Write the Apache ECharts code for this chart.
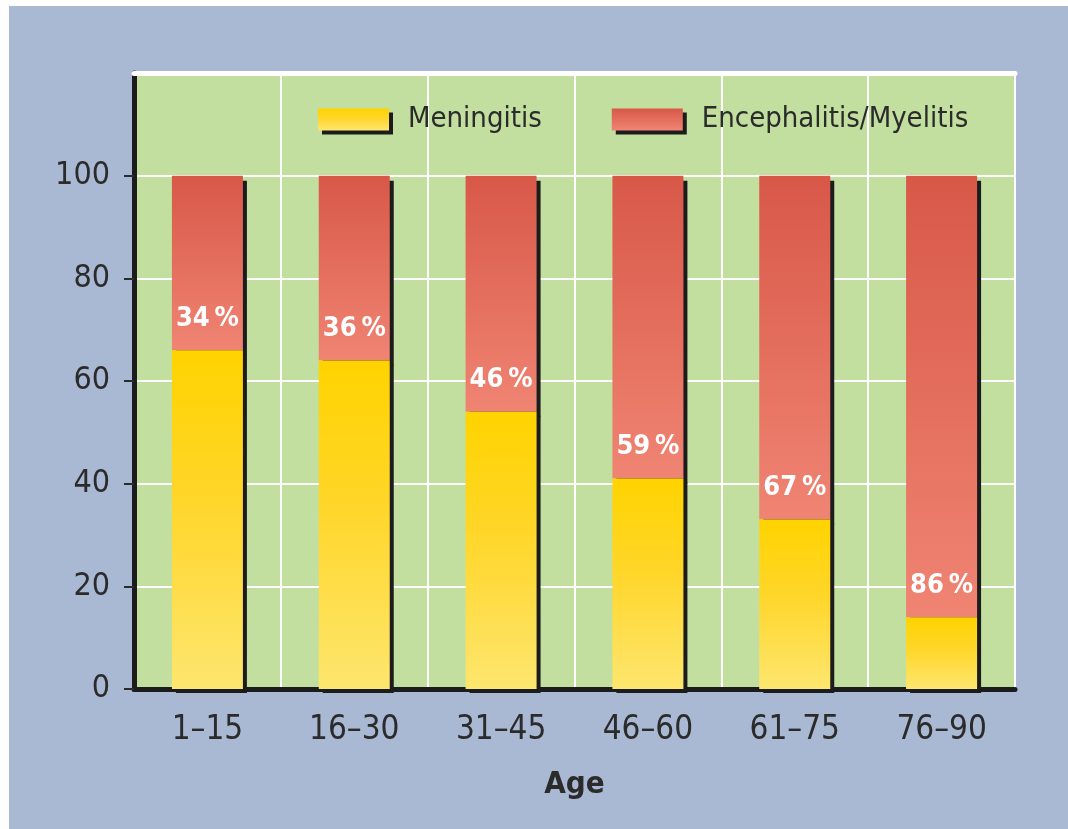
<!DOCTYPE html>
<html>
<head>
<meta charset="utf-8">
<script src="https://cdn.jsdelivr.net/npm/echarts@6/dist/echarts.min.js"></script>
<style>
  html, body { margin: 0; padding: 0; background: #ffffff; }
  #panel { position: absolute; left: 9px; top: 6px; width: 1059px; height: 823px; background: #a9b8d3; }
  #chart { position: absolute; left: 0; top: 0; width: 1068px; height: 829px; }
</style>
</head>
<body>
<div id="panel"></div>
<div id="chart"></div>
<script>
// Share of meningitis vs. encephalitis/myelitis by age group (percent)
const ageGroups = ['1–15', '16–30', '31–45', '46–60', '61–75', '76–90'];
const meningitis = [66, 64, 54, 41, 33, 14];
const encephalitis = [34, 36, 46, 59, 67, 86];
const yTicks = [0, 20, 40, 60, 80, 100];

const narrow = "'Liberation Sans Narrow', 'DejaVu Sans Condensed', 'Arial Narrow', sans-serif";
const textDark = '#2b2b2b';
const shadow = { shadowColor: '#1c1c1c', shadowBlur: 0, shadowOffsetX: 4 };

const chart = echarts.init(document.getElementById('chart'), null, { renderer: 'canvas' });

chart.setOption({
  backgroundColor: 'transparent',
  animation: false,
  grid: {
    left: 134, right: 53, top: 73, bottom: 140,
    show: true, backgroundColor: '#c2df9f', borderWidth: 0
  },
  legend: {
    left: 318, top: 105, padding: 0,
    itemWidth: 71, itemHeight: 22, itemGap: 70,
    icon: 'rect',
    selectedMode: false,
    itemStyle: Object.assign({ shadowOffsetY: 4 }, shadow),
    textStyle: { fontFamily: narrow, fontSize: 29, color: textDark, padding: [0, 0, 0, 14] },
    data: ['Meningitis', 'Encephalitis/Myelitis']
  },
  xAxis: [{
    type: 'category',
    data: ageGroups,
    name: 'Age',
    nameLocation: 'middle',
    nameGap: 80,
    nameTextStyle: { fontFamily: narrow, fontSize: 31, fontWeight: 'bold', color: textDark },
    axisLine: { lineStyle: { color: '#1c1c1c', width: 5 } },
    axisTick: { length: 10, lineStyle: { color: '#1c1c1c', width: 2 } },
    axisLabel: { fontFamily: narrow, fontSize: 33, color: textDark, margin: 25 },
    splitLine: { show: true, lineStyle: { color: '#ffffff', width: 2 } }
  }, {
    type: 'category',
    data: ageGroups,
    position: 'top',
    axisLine: { lineStyle: { color: '#ffffff', width: 5 } },
    axisTick: { show: false },
    axisLabel: { show: false },
    splitLine: { show: false }
  }],
  yAxis: {
    type: 'value',
    min: 0, max: 120, interval: 20,
    axisLine: { show: true, lineStyle: { color: '#1c1c1c', width: 5 } },
    axisTick: { show: true, length: 10, customValues: yTicks, lineStyle: { color: '#2b2b2b', width: 2 } },
    axisLabel: { fontFamily: narrow, fontSize: 32, color: textDark, margin: 24, customValues: yTicks },
    splitLine: { show: true, lineStyle: { color: '#ffffff', width: 2 } }
  },
  series: [{
    name: 'Meningitis',
    type: 'bar',
    stack: 'total',
    xAxisIndex: 0,
    barWidth: 71,
    z: 3,
    data: meningitis,
    emphasis: { disabled: true },
    itemStyle: Object.assign({
      color: new echarts.graphic.LinearGradient(0, 0, 0, 1, [
        { offset: 0, color: '#ffd300' },
        { offset: 0.45, color: '#ffd62a' },
        { offset: 1, color: '#fde66f' }
      ]),
      shadowOffsetY: 4
    }, shadow)
  }, {
    name: 'Encephalitis/Myelitis',
    type: 'bar',
    stack: 'total',
    xAxisIndex: 0,
    barWidth: 71,
    z: 2,
    data: encephalitis,
    emphasis: { disabled: true },
    itemStyle: Object.assign({
      color: new echarts.graphic.LinearGradient(0, 0, 0, 1, [
        { offset: 0, color: '#d85848' },
        { offset: 1, color: '#f08473' }
      ]),
      shadowOffsetY: 5
    }, shadow),
    label: {
      show: true,
      position: 'insideBottom',
      distance: 18,
      formatter: '{c}\u2009%',
      color: '#ffffff',
      fontFamily: narrow,
      fontWeight: 'bold',
      fontSize: 27
    }
  }]
});
</script>
</body>
</html>
